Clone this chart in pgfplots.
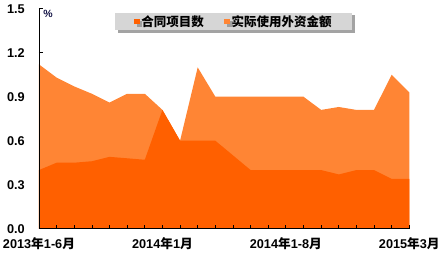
\documentclass[border=0pt]{standalone}
\usepackage{fontspec}
\setmainfont{Liberation Sans}
\newfontfamily\cjk{Noto Sans CJK SC}
\usepackage{pgfplots}
\usepackage{pgfplotstable}
\pgfplotsset{compat=1.18}
\usetikzlibrary{shadows}

\definecolor{darkor}{RGB}{255,96,0}
\definecolor{lightor}{RGB}{255,133,52}
\definecolor{legbg}{RGB}{214,214,214}
\definecolor{pctcol}{RGB}{20,20,70}

\newcommand\nian{{\cjk 年}}
\newcommand\yue{{\cjk 月}}

% idx: 2013 Jan-Jun ... 2015 Jan-Mar (cumulative, YoY share %)
\pgfplotstableread{
idx light dark
0  1.12 0.40
1  1.03 0.45
2  0.97 0.45
3  0.92 0.46
4  0.86 0.49
5  0.92 0.48
6  0.92 0.47
7  0.81 0.81
8  0.60 0.60
9  1.10 0.60
10 0.90 0.60
11 0.90 0.50
12 0.90 0.40
13 0.90 0.40
14 0.90 0.40
15 0.90 0.40
16 0.81 0.40
17 0.83 0.37
18 0.81 0.40
19 0.81 0.40
20 1.05 0.34
21 0.93 0.34
}\datatable

\begin{document}
\begin{tikzpicture}
\useasboundingbox (-39pt,-29.3pt) rectangle (405pt,228.7pt);
\begin{axis}[
  at={(0,0)}, anchor=south west,
  scale only axis, width=370.3pt, height=220pt,
  xmin=0, xmax=21, ymin=0, ymax=1.5,
  axis x line*=bottom, axis y line*=left,
  axis line style={black, line width=0.9pt},
  axis on top,
  tick align=inside,
  xtick={0,...,21},
  xticklabels={{2013\nian1-6\yue},,,,,,,{2014\nian1\yue},,,,,,,{2014\nian1-8\yue},,,,,,,{2015\nian3\yue}},
  x tick style={black, line width=0.8pt},
  major tick length=4pt,
  xticklabel style={font=\bfseries\fontsize{12.7}{14}\selectfont, inner sep=0pt, anchor=north, yshift=-8.5pt},
  ytick={1.2,1.5},
  extra y ticks={0,0.3,0.6,0.9},
  extra y tick style={major tick length=0pt},
  y tick style={black, line width=0.8pt},
  yticklabel style={font=\bfseries\fontsize{12.7}{14}\selectfont, inner sep=0pt, anchor=east, xshift=-14pt,
    /pgf/number format/.cd, fixed, fixed zerofill, precision=1, assume math mode=true},
  ylabel={\%},
  ylabel style={rotate=-90, at={(rel axis cs:0,1)}, anchor=north west, inner sep=0pt, xshift=4.3pt, yshift=-1.5pt,
    font=\bfseries\fontsize{10.5}{12}\selectfont, text=pctcol},
  legend columns=2,
  legend image code/.code={\fill[#1] (0pt,-2.8pt) rectangle (5.7pt,2.8pt);},
  legend style={at={(rel axis cs:0.2052,0.9818)}, anchor=north west,
    fill=legbg, draw=none, inner xsep=19pt, inner ysep=2.5pt,
    drop shadow={shadow xshift=2.5pt, shadow yshift=-2.5pt, fill=gray!80, opacity=0.9},
    font=\cjk\bfseries\fontsize{12.5}{13}\selectfont,
    nodes={inner xsep=1.5pt, inner ysep=0pt},
    /tikz/every even column/.append style={column sep=19pt}},
]
\addlegendimage{fill=darkor, draw=none}
\addlegendentry{合同项目数}
\addlegendimage{fill=lightor, draw=none}
\addlegendentry{实际使用外资金额}

\addplot[fill=lightor, draw=none, forget plot] table[x=idx, y=light] {\datatable} \closedcycle;
\addplot[fill=darkor, draw=none, forget plot] table[x=idx, y=dark] {\datatable} \closedcycle;
\end{axis}
\end{tikzpicture}
\end{document}
